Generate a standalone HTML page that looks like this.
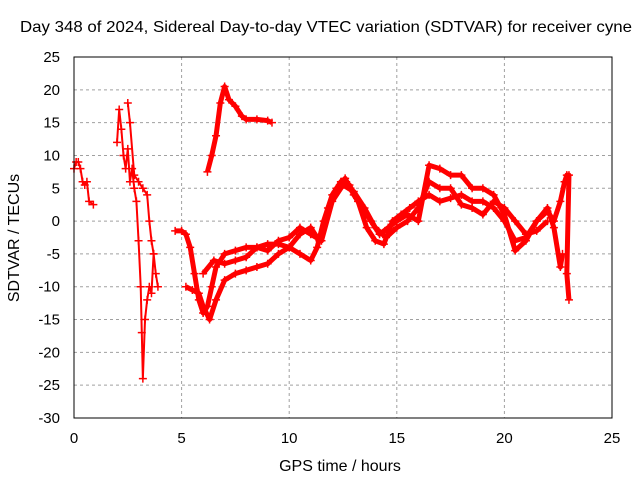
<!DOCTYPE html>
<html><head><meta charset="utf-8"><style>
body{margin:0;background:#fff}
svg{display:block;font-family:"Liberation Sans",sans-serif;font-size:15px}
</style></head><body>
<svg width="640" height="480" xmlns="http://www.w3.org/2000/svg">
<rect width="640" height="480" fill="#fff"/>
<g id="grid"></g>
<g id="series"></g>
<rect x="74" y="57" width="538" height="361" fill="none" stroke="#000" stroke-width="1"/>
<g id="ticks"></g>
<text x="326" y="32" text-anchor="middle" textLength="612" lengthAdjust="spacingAndGlyphs" style="font-size:16px">Day 348 of 2024, Sidereal Day-to-day VTEC variation (SDTVAR) for receiver cyne</text>
<text x="340" y="471" text-anchor="middle" style="font-size:16px">GPS time / hours</text>
<text transform="translate(19,238) rotate(-90)" text-anchor="middle" style="font-size:16px">SDTVAR / TECUs</text>
</svg>
<script>
const xTicks=[0,5,10,15,20,25];
const yTicks=[25,20,15,10,5,0,-5,-10,-15,-20,-25,-30];
const traceEarlyX=[0,0.1,0.2,0.3,0.4,0.5,0.6,0.7,0.9];
const traceEarlyY=[8,9,9,8,6,5.5,6,3,2.5];
const traceSpikeX=[2.0,2.1,2.2,2.3,2.4,2.5,2.6,2.7,2.8,2.9,3.0,3.1,3.15,3.2,3.3,3.4,3.5,3.6,3.7,3.8,3.9];
const traceSpikeY=[12,17,14,10,8,11,6,8,5,3,-3,-10,-17,-24,-15,-12,-10,-11,-5,-8,-10];
const traceSpike2X=[2.5,2.6,2.8,3.0,3.2,3.4,3.5,3.6,3.7];
const traceSpike2Y=[18,15,7,6,5,4,0,-3,-5];
const traceAX=[4.7,5.0,5.2,5.4,5.6,5.8,6.0,6.2,6.4,6.6,7,7.5,8,8.5,9,9.5,10,10.5,11,11.3,11.6,12,12.4,12.8,13.2,13.6,14,14.4,14.8,15.2,15.6,16,16.5,17,17.5,18,18.5,19,19.5,20,20.5,21,21.5,22,22.3,22.6,22.8];
const traceAY=[-1.5,-1.5,-2,-4,-8,-12,-14,-13,-10,-7,-5,-4.5,-4,-4,-3.5,-3.5,-4,-5,-6,-4,0,4,6,5.5,3,-1,-3,-3.5,0,1,2,3,4,3,3.5,4,3,3,2,0,-3,-2.5,0,1.5,0,3,6];
const traceBX=[5.2,5.5,5.8,6,6.3,6.6,7,7.5,8,8.5,9,9.5,10,10.5,11,11.4,11.8,12.2,12.6,13,13.4,13.8,14.2,14.6,15,15.5,16,16.5,17,17.5,18,18.5,19,19.5,20,20.5,21,21.5,22,22.3,22.6,22.7];
const traceBY=[-10,-10.5,-11,-13,-15,-12,-9,-8,-7.5,-7,-6.5,-5,-4,-2,-1,-3,2,5,6.5,4,2,0,-2,-1,0,1,0,8.5,8,7,7,5,5,4,1,-4.5,-3,0,2,-1,-7,-5];
const traceCX=[6,6.5,7,7.5,8,8.5,9,9.5,10,10.5,11,11.5,12,12.5,13,13.5,14,14.5,15,15.5,16,16.5,17,17.5,18,18.5,19,19.5,20,20.5,21,21.5,22];
const traceCY=[-8,-6,-6.5,-6,-5.5,-4,-4.5,-3,-2.5,-1,-2,-3,3,5.5,4.5,2,-1,-2.5,-1,0,2,6,5,5,2.5,2,1,3,2,0,-2,-1.5,0];
const traceUpX=[6.2,6.4,6.6,6.8,7,7.2,7.5,7.8,8,8.5,9,9.2];
const traceUpY=[7.5,10,13,18,20.5,18.5,17.5,16,15.5,15.5,15.3,15];
const traceEndX=[22.8,22.9,23,22.9,23];
const traceEndY=[6,7,7,-8,-12];
const traces=[[traceEarlyX,traceEarlyY],[traceSpikeX,traceSpikeY],[traceSpike2X,traceSpike2Y],[traceAX,traceAY],[traceBX,traceBY],[traceCX,traceCY],[traceUpX,traceUpY],[traceEndX,traceEndY]];
const NS="http://www.w3.org/2000/svg";
function sx(v){return 74+v/25*538;}
function sy(v){return 418-(v+30)/55*361;}
const grid=document.getElementById('grid'),ticks=document.getElementById('ticks'),ser=document.getElementById('series');
function mk(tag,attrs,parent){const e=document.createElementNS(NS,tag);for(const k in attrs)e.setAttribute(k,attrs[k]);parent.appendChild(e);return e;}
xTicks.forEach(t=>{const x=sx(t);
 if(t>0&&t<25){const g=mk('line',{x1:x,x2:x,y1:57,y2:418,stroke:'#a0a0a0','stroke-dasharray':'3,3'},grid);
 
 }
 const tx=mk('text',{x:x,y:443,'text-anchor':'middle'},ticks);tx.textContent=t;
 
 });
yTicks.forEach(t=>{const y=sy(t);
 if(t>-30&&t<25){const g=mk('line',{x1:74,x2:612,y1:y,y2:y,stroke:'#a0a0a0','stroke-dasharray':'3,3'},grid);
 
 }
 const tx=mk('text',{x:60,y:y+5,'text-anchor':'end'},ticks);tx.textContent=t;
 
 });
traces.forEach(([xs,ys],k)=>{
 const pts=xs.map((x,i)=>sx(x)+','+sy(ys[i])).join(' ');
 const pl=mk('polyline',{points:pts,fill:'none',stroke:'#ff0000','stroke-width':(k<3?2:5),'stroke-linejoin':'round'},ser);
 
 
 xs.forEach((x,i)=>{const X=sx(x),Y=sy(ys[i]);
  const p=mk('path',{d:`M${X-4} ${Y}H${X+4}M${X} ${Y-4}V${Y+4}`,stroke:'#ff0000','stroke-width':1.5},ser);
  
  });
});
</script>
</body></html>
